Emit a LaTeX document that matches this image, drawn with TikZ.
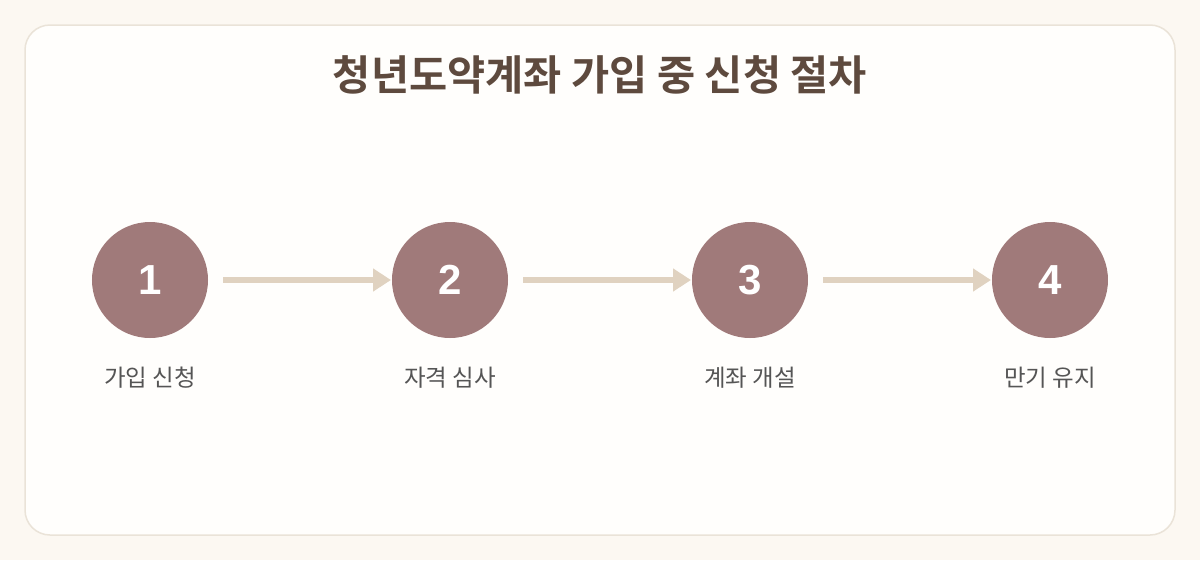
\documentclass[tikz,border=0pt]{standalone}
\usepackage{fontspec}
\setmainfont{Noto Sans CJK KR}
\newfontfamily\krbold{Noto Sans CJK KR Bold}
\newfontfamily\numbold{Liberation Sans Bold}
\usetikzlibrary{arrows.meta, graphs, positioning}

\definecolor{pagebg}{HTML}{FCF8F2}
\definecolor{cardbg}{HTML}{FFFEFC}
\definecolor{cardline}{HTML}{EAE3D8}
\definecolor{stepfill}{HTML}{A07A7A}
\definecolor{flowline}{HTML}{E0D2C0}
\definecolor{titleink}{HTML}{5E4A3E}
\definecolor{labelink}{HTML}{555555}

\tikzset{
    stepdot/.style={
        circle,
        fill=stepfill,
        minimum size=116pt,
        inner sep=0pt,
        text=white,
        font=\numbold\fontsize{42}{42}\selectfont,
    },
    steplabel/.style={
        text=labelink,
        font=\fontsize{23.5}{23.5}\selectfont,
    },
}

\begin{document}
\begin{tikzpicture}[
                x=1pt,
                y=-1pt,
                > ={Triangle[length=18pt,width=22pt]},
                draw=flowline,
                line width=6pt,
            ]
            % page and card
            \fill[pagebg] (0,0) rectangle (1200,560);
            \filldraw[fill=cardbg, draw=cardline, line width=1.5pt, rounded corners=25pt]
                (25,25) rectangle (1175,535);
            \useasboundingbox (0,0) rectangle (1200,560);

            \node[text=titleink, font=\krbold\fontsize{41.5}{41.5}\selectfont] (title) at (600,75)
                {청년도약계좌 가입 중 신청 절차};

            \matrix[column sep=184pt] at (600,280) {
                \node[stepdot] (A) {1} ; &
                \node[stepdot] (B) {2} ; &
                \node[stepdot] (C) {3} ; &
                \node[stepdot] (D) {4} ; \\
            } ;

            \node[steplabel] (LA) at ([yshift=-98pt]A.center) {가입 신청};
            \node[steplabel] (LB) at ([yshift=-98pt]B.center) {자격 심사};
            \node[steplabel] (LC) at ([yshift=-98pt]C.center) {계좌 개설};
            \node[steplabel] (LD) at ([yshift=-98pt]D.center) {만기 유지};

            \graph[use existing nodes, edges={shorten <=12pt, shorten >=-2pt}]{
                A -> B -> C -> D
                ;
            } ;
        \end{tikzpicture}
\end{document}
